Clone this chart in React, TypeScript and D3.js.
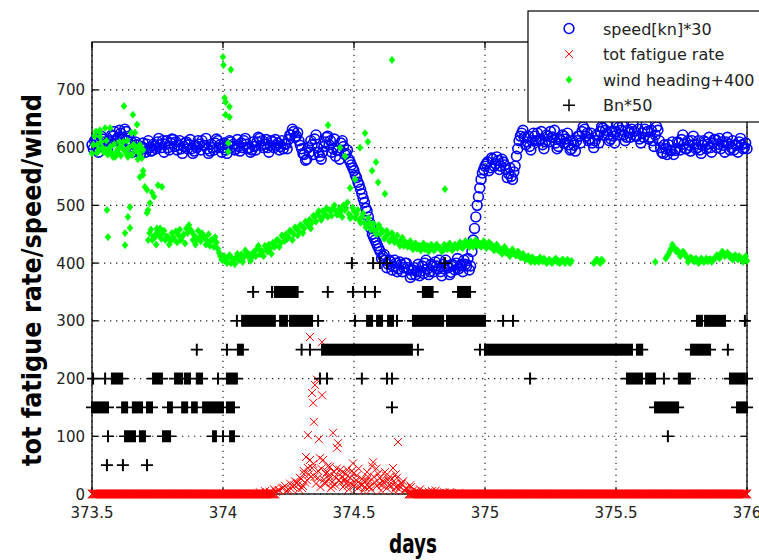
import React from "react";
import * as d3 from "d3";

// ---------- data ----------
const xTickValues = [373.5, 374, 374.5, 375, 375.5, 376];
const xTickLabels = ["373.5", "374", "374.5", "375", "375.5", "376"];
const yTickValues = [0, 100, 200, 300, 400, 500, 600, 700];
const yTickLabels = ["0", "100", "200", "300", "400", "500", "600", "700"];

// regular sampling grid (days): A samples at 373.50 + i*0.01, B samples half a step later
const gridStart = 373.5;
const gridStep = 0.01;

// speed[kn]*30, A samples 373.50 .. 376.00
const speedValues = [
  605, 612, 600, 608, 615, 605, 598, 610, 620, 612,
  618, 625, 615, 628, 620, 610, 600, 605, 595, 602,
  598, 606, 600, 595, 603, 610, 605, 612, 606, 600,
  608, 614, 610, 604, 598, 602, 610, 605, 598, 594,
  600, 606, 612, 604, 598, 594, 600, 608, 612, 605,
  600, 596, 604, 610, 606, 598, 602, 608, 612, 606,
  600, 596, 602, 610, 616, 612, 606, 600, 604, 610,
  614, 608, 602, 598, 606, 614, 622, 628, 620, 612,
  598, 588, 580, 592, 605, 615, 600, 585, 592, 610,
  620, 612, 598, 585, 596, 608, 602, 590, 580, 570,
  560, 548, 535, 520, 505, 490, 470, 450, 440, 430,
  420, 412, 405, 398, 402, 394, 400, 390, 398, 392,
  400, 388, 380, 392, 385, 378, 395, 400, 390, 385,
  395, 402, 390, 385, 398, 405, 392, 384, 396, 400,
  390, 398, 405, 395, 388, 420, 460, 500, 530, 556,
  568, 575, 565, 580, 572, 578, 568, 575, 562, 555,
  550, 558, 585, 612, 625, 618, 610, 602, 612, 620,
  625, 615, 605, 610, 620, 628, 618, 608, 602, 612,
  620, 615, 605, 598, 604, 612, 620, 628, 632, 625,
  615, 608, 612, 620, 628, 634, 630, 622, 615, 620,
  628, 635, 630, 622, 618, 626, 632, 628, 620, 615,
  625, 632, 628, 618, 612, 622, 630, 600, 590, 598,
  605, 595, 588, 598, 608, 614, 606, 598, 604, 612,
  606, 600, 596, 604, 610, 606, 600, 608, 614, 606,
  598, 604, 610, 606, 600, 596, 604, 610, 605, 600,
  598,
];
// speed[kn]*30, B samples 373.505 .. 375.995
const speedValuesB = [
  598, 615, 592, 620, 610, 600, 612, 622, 628, 615,
  630, 618, 632, 612, 606, 592, 610, 598, 590, 608,
  592, 612, 594, 606, 598, 616, 600, 592, 612, 596,
  615, 602, 596, 612, 590, 608, 598, 614, 590, 604,
  612, 596, 604, 616, 590, 606, 596, 615, 600, 592,
  608, 590, 612, 602, 596, 614, 594, 600, 616, 598,
  592, 610, 596, 618, 604, 600, 614, 592, 612, 600,
  604, 596, 612, 606, 598, 622, 632, 618, 626, 604,
  590, 578, 600, 612, 588, 622, 592, 580, 602, 618,
  605, 592, 615, 595, 580, 612, 588, 596, 575, 565,
  552, 540, 528, 512, 495, 480, 460, 445, 435, 425,
  408, 415, 392, 405, 388, 405, 385, 402, 385, 400,
  392, 375, 388, 380, 398, 386, 382, 405, 380, 398,
  385, 395, 405, 378, 390, 395, 380, 398, 388, 408,
  395, 385, 398, 408, 395, 440, 480, 515, 545, 562,
  572, 560, 582, 568, 584, 562, 580, 570, 548, 565,
  545, 568, 598, 620, 630, 605, 620, 596, 625, 612,
  612, 628, 598, 622, 610, 618, 630, 598, 615, 622,
  608, 625, 596, 612, 594, 620, 608, 636, 620, 612,
  625, 600, 622, 608, 636, 622, 640, 612, 628, 608,
  640, 622, 638, 612, 630, 618, 640, 620, 632, 608,
  618, 640, 615, 630, 602, 636, 612, 592, 605, 588,
  596, 610, 595, 610, 596, 622, 598, 612, 594, 620,
  598, 612, 590, 612, 598, 618, 592, 614, 600, 616,
  610, 592, 618, 596, 612, 605, 592, 616, 598, 608,
];

// wind heading+400, A samples (null = no sample)
const windValues: (number | null)[] = [
  590, 620, 605, 630, 600, 596, 588, 602, 584, 592,
  598, 586, 610, 590, 600, 626, 605, 596, 590, 582,
  null, null, 452, 440, 448, 455, 460, 452, 440, 445,
  438, 445, 455, 448, 440, 450, 460, 466, 455, 448,
  440, 445, 452, 445, 438, 430, 440, 445, 425, 412,
  405, 405, 410, 400, 405, 410, 405, 415, 410, 418,
  415, 410, 420, 425, 415, 420, 430, 420, 425, 435,
  430, 440, 435, 445, 450, 445, 455, 450, 460, 455,
  465, 460, 470, 475, 470, 480, 485, 480, 490, 485,
  480, 490, 495, 490, 485, 490, 500, 495, 485, 480,
  490, 485, 475, 480, 470, 465, 470, 460, 455, 460,
  450, 455, 445, 450, 440, 445, 440, 435, 440, 430,
  435, 430, 428, 432, 425, 430, 428, 424, 430, 426,
  428, 424, 430, 426, 422, 428, 425, 430, 426, 428,
  432, 428, 430, 434, 428, 432, 436, 430, 434, 432,
  430, 432, 428, 425, 428, 422, 420, 425, 418, 415,
  420, 417, 413, 418, 410, 412, 408, 405, 410, 402,
  405, 410, 403, 405, 402, 404, 402, 408, 404, 402,
  405, 403, 402, 404, null, null, null, null, null, null,
  null, null, 402, 405, 400, 404, null, null, null, null,
  null, null, null, null, null, null, null, null, null, null,
  null, null, null, null, null, 402, null, null, null, 408,
  415, 425, 428, 420, 418, 415, 418, 410, 405, 408,
  403, 405, 402, 406, 404, 403, 407, 405, 409, 412,
  415, 418, 414, 416, 412, 408, 410, 412, 405, 408,
  404,
];
// wind heading+400, B samples
const windValuesB: (number | null)[] = [
  605, 628, 596, 610, 592, 612, 596, 590, 606, 588,
  610, 600, 594, 612, 588, 604, 595, 580, 600, 560,
  null, 440, 458, 446, 432, 448, 442, 456, 446, 432,
  452, 440, 436, 458, 446, 434, 452, 458, 440, 432,
  456, 438, 446, 432, 450, 440, 428, 436, 418, 406,
  412, 400, 414, 408, 398, 416, 410, 402, 422, 412,
  404, 418, 412, 430, 422, 412, 426, 432, 416, 428,
  440, 428, 448, 438, 442, 456, 440, 462, 448, 466,
  452, 472, 466, 460, 482, 472, 490, 475, 482, 495,
  492, 482, 500, 484, 495, 480, 492, 505, 478, 496,
  478, 492, 470, 486, 462, 478, 458, 468, 450, 466,
  458, 442, 456, 438, 452, 436, 448, 430, 444, 436,
  428, 438, 424, 434, 430, 422, 434, 428, 420, 432,
  422, 432, 426, 420, 432, 424, 434, 422, 432, 426,
  436, 426, 438, 430, 438, 428, 440, 434, 428, 438,
  426, 436, 432, 422, 432, 426, 416, 428, 422, 412,
  424, 414, 420, 410, 416, 406, 412, 402, 408, 406,
  402, 406, 408, 400, 406, 400, 406, 402, 400, 406,
  400, 406, 400, null, null, null, null, null, null, null,
  null, 400, 406, 402, 406, null, null, null, null, null,
  null, null, null, null, null, null, null, null, null, null,
  null, null, null, null, null, null, null, null, null, 412,
  420, 432, 424, 422, 412, 420, 414, 402, 410, 404,
  408, 400, 408, 402, 408, 406, 402, 408, 414, 408,
  420, 412, 418, 410, 406, 414, 406, 410, 402, 412,
];

// scattered wind samples off the main band
const windExtraDays = [
  373.519, 373.531, 373.55, 373.557, 373.569, 373.588, 373.607, 373.622, 373.637, 373.645,
  373.656, 373.664, 373.672, 373.676, 373.695, 373.702, 373.71, 373.729, 373.737, 373.752,
  373.767, 373.714, 373.645, 373.637, 373.721, 373.71, 373.626, 373.561, 373.626, 373.683,
  373.55, 373.569, 373.53, 373.6, 373.653, 373.683, 373.695, 373.741, 373.748,
  374.0, 374.002, 374.03, 374.006, 374.01, 374.025, 374.01, 374.025, 374.02, 374.02,
  374.401, 374.447, 374.466, 374.485, 374.504, 374.523, 374.542, 374.553, 374.569, 374.584,
  374.592, 374.618, 374.645, 374.847,
];
const windExtraValues = [
  591, 619, 634, 492, 600, 584, 601, 672, 584, 461,
  657, 626, 640, 601, 553, 532, 527, 522, 515, 535,
  532, 492, 497, 480, 504, 487, 452, 445, 431, 549,
  596, 634, 626, 591, 587, 605, 596, 445, 460,
  757, 743, 735, 686, 679, 671, 657, 653, 608, 593,
  639, 600, 585, 530, 545, 600, 625, 610, 560, 575,
  540, 520, 752, 528,
];

// tot fatigue rate: spans where it is zero, and the non-zero samples
const fatigueZeroStart = [373.5, 374.71];
const fatigueZeroEnd = [374.2, 376.0];
const fatigueDays = [
  374.141, 374.16, 374.179, 374.195, 374.21, 374.225, 374.237, 374.248, 374.256, 374.267,
  374.275, 374.286, 374.294, 374.302, 374.309, 374.313, 374.317, 374.324, 374.324, 374.332,
  374.332, 374.336, 374.34, 374.34, 374.344, 374.347, 374.351, 374.355, 374.359, 374.363,
  374.366, 374.37, 374.378, 374.378, 374.382, 374.385, 374.393, 374.4, 374.408, 374.416,
  374.42, 374.424, 374.431, 374.435, 374.439, 374.447, 374.454, 374.462, 374.469, 374.477,
  374.485, 374.492, 374.496, 374.504, 374.511, 374.523, 374.53, 374.542, 374.553, 374.561,
  374.569, 374.573, 374.58, 374.592, 374.599, 374.607, 374.618, 374.63, 374.637, 374.649,
  374.656, 374.664, 374.668, 374.676, 374.687, 374.698, 374.714, 374.725, 374.744, 374.771,
  374.798, 374.828, 374.866,
  374.29, 374.305, 374.32, 374.35, 374.372, 374.39, 374.405, 374.412, 374.428, 374.443,
  374.458, 374.473, 374.48, 374.5, 374.515, 374.527, 374.535, 374.548, 374.557, 374.565,
  374.588, 374.603, 374.612, 374.625, 374.642, 374.652, 374.66, 374.672, 374.68, 374.692,
  374.202, 374.214, 374.23, 374.244, 374.26, 374.272, 374.282, 374.298, 374.308, 374.328,
  374.345, 374.362, 374.375, 374.388, 374.397, 374.404, 374.418, 374.426, 374.434, 374.45,
  374.457, 374.465, 374.474, 374.488, 374.498, 374.508, 374.518, 374.532, 374.545, 374.55,
  374.56, 374.576, 374.585, 374.596, 374.61, 374.622, 374.634, 374.645, 374.659, 374.683,
  374.702, 374.718, 374.735, 374.752, 374.785, 374.812, 374.845, 374.9,
];
const fatigueValues = [
  3, 5, 4, 8, 6, 10, 14, 8, 18, 12,
  22, 16, 28, 10, 35, 20, 64, 102, 45, 272,
  59, 30, 175, 45, 158, 125, 189, 18, 198, 40,
  95, 62, 263, 171, 59, 25, 35, 48, 47, 20,
  106, 38, 28, 80, 88, 42, 30, 22, 35, 15,
  28, 40, 53, 20, 32, 18, 26, 12, 30, 22,
  48, 55, 20, 35, 28, 15, 38, 24, 30, 45,
  18, 28, 90, 12, 22, 10, 15, 6, 4, 3,
  5, 2, 3,
  8, 14, 24, 30, 12, 18, 26, 10, 16, 24,
  12, 20, 8, 14, 10, 16, 6, 24, 12, 8,
  14, 6, 20, 10, 14, 6, 12, 8, 18, 6,
  4, 7, 11, 5, 9, 15, 20, 26, 40, 34,
  52, 28, 44, 20, 38, 32, 14, 30, 44, 20,
  38, 26, 42, 18, 36, 24, 44, 16, 22, 38,
  12, 30, 44, 18, 22, 32, 16, 26, 34, 18,
  8, 12, 5, 8, 4, 6, 3, 2,
];

// Bn*50: runs of constant value (start day, end day, plotted level)
const bnStart = [
  373.557, 373.618, 373.71,
  373.561, 373.626, 373.683, 373.771, 373.962, 374.0, 374.027, 375.698,
  373.5, 373.615, 373.656, 373.71, 373.79, 373.844, 373.882, 373.924, 374.015, 374.645, 375.649, 375.962,
  373.504, 373.55, 373.576, 373.733, 373.817, 373.855, 373.9, 373.981, 374.015, 374.37, 374.397, 374.53, 374.626, 374.645, 375.172, 375.542, 375.615, 375.683, 375.74, 375.935, 376.0,
  373.9, 374.015, 374.057, 374.3, 374.332, 374.378, 374.744, 374.981, 375.0, 375.58, 375.786, 375.927,
  374.053, 374.073, 374.218, 374.256, 374.363, 374.504, 374.55, 374.588, 374.63, 374.664, 374.725, 374.855, 375.069, 375.107, 375.809, 375.84, 375.992,
  374.115, 374.187, 374.198, 374.4, 374.496, 374.542, 374.58, 374.763, 374.897,
  374.492, 374.573, 374.599, 374.626, 374.847,
];
const bnEnd = [
  373.557, 373.618, 373.71,
  373.561, 373.664, 373.702, 373.798, 373.973, 374.0, 374.042, 375.698,
  373.561, 373.634, 373.691, 373.729, 373.805, 373.863, 373.9, 374.0, 374.042, 374.645, 375.737, 376.0,
  373.504, 373.55, 373.615, 373.767, 373.844, 373.874, 373.92, 373.981, 374.053, 374.37, 374.397, 374.53, 374.626, 374.645, 375.172, 375.599, 375.649, 375.683, 375.782, 375.992, 376.0,
  373.9, 374.015, 374.076, 374.3, 374.332, 374.721, 374.744, 374.981, 375.561, 375.6, 375.859, 375.927,
  374.053, 374.198, 374.244, 374.34, 374.363, 374.504, 374.569, 374.607, 374.649, 374.664, 374.84, 375.0, 375.069, 375.107, 375.828, 375.916, 375.992,
  374.115, 374.187, 374.285, 374.4, 374.496, 374.542, 374.58, 374.8, 374.943,
  374.492, 374.573, 374.599, 374.626, 374.847,
];
const bnLevel = [
  50, 50, 50,
  100, 100, 100, 100, 100, 100, 100, 100,
  150, 150, 150, 150, 150, 150, 150, 150, 150, 150, 150, 150,
  200, 200, 200, 200, 200, 200, 200, 200, 200, 200, 200, 200, 200, 200, 200, 200, 200, 200, 200, 200, 200,
  250, 250, 250, 250, 250, 250, 250, 250, 250, 250, 250, 250,
  300, 300, 300, 300, 300, 300, 300, 300, 300, 300, 300, 300, 300, 300, 300, 300, 300,
  350, 350, 350, 350, 350, 350, 350, 350, 350,
  400, 400, 400, 400, 400,
];

const legendLabels = ["speed[kn]*30", "tot fatigue rate", "wind heading+400", "Bn*50"];

// ---------- layout ----------
const W = 759;
const H = 560;
const PL = 92, PR = 747, PT = 42, PB = 494;
const BLUE = "#0000ff";
const RED = "#ff0000";
const GREEN = "#00ff00";
const TICK_FONT = "'DejaVu Sans', Verdana, sans-serif";
const LABEL_FONT = "'Liberation Sans Narrow', 'Arial Narrow', 'DejaVu Sans Condensed', sans-serif";

const xScale = d3.scaleLinear().domain([373.5, 376]).range([PL, PR]);
const yScale = d3.scaleLinear().domain([0, 783]).range([PB, PT]);

function crossD(cx: number, cy: number, s: number) {
  return `M${cx - s},${cy - s}L${cx + s},${cy + s}M${cx - s},${cy + s}L${cx + s},${cy - s}`;
}
function diamondD(cx: number, cy: number, w: number, h: number) {
  return `M${cx},${cy - h}L${cx + w},${cy}L${cx},${cy + h}L${cx - w},${cy}Z`;
}

export default function App() {
  const daysA = speedValues.map((_, i) => gridStart + i * gridStep);
  const daysB = speedValuesB.map((_, i) => gridStart + (i + 0.5) * gridStep);

  // speed circles (A and B samples interleaved in time)
  const speedPts: [number, number][] = [];
  daysA.forEach((d, i) => {
    speedPts.push([xScale(d), yScale(speedValues[i])]);
    if (i < speedValuesB.length) speedPts.push([xScale(daysB[i]), yScale(speedValuesB[i])]);
  });

  // fatigue: zero spans drawn as dense markers along the zero line
  let fatigueZeroPath = "";
  fatigueZeroStart.forEach((s, k) => {
    const e = fatigueZeroEnd[k];
    d3.range(s, e + 1e-9, 0.003).forEach((d) => {
      fatigueZeroPath += crossD(xScale(d), yScale(0), 4.3);
    });
  });
  let fatiguePath = "";
  fatigueDays.forEach((d, i) => {
    fatiguePath += crossD(xScale(d), yScale(fatigueValues[i]), 4);
  });

  // wind diamonds
  let windPath = "";
  windValues.forEach((v, i) => {
    if (v === null) return;
    windPath += diamondD(xScale(daysA[i]), yScale(v), 3, 3.6);
  });
  windValuesB.forEach((v, i) => {
    if (v === null) return;
    windPath += diamondD(xScale(daysB[i]), yScale(v), 3, 3.6);
  });
  windExtraDays.forEach((d, i) => {
    windPath += diamondD(xScale(d), yScale(windExtraValues[i]), 3, 3.6);
  });

  // Bn: blocks of dense '+' markers
  const bnRects: JSX.Element[] = [];
  let bnLines = "";
  bnStart.forEach((s, i) => {
    const x0 = xScale(s);
    const x1 = xScale(bnEnd[i]);
    const yy = yScale(bnLevel[i]);
    bnLines += `M${x0 - 6},${yy}L${x1 + 6},${yy}`;
    bnRects.push(
      <rect key={i} x={x0 - 1} y={yy - 6} width={x1 - x0 + 2} height={12} fill="#000" />
    );
  });

  const tickLen = 6;

  return (
    <svg width={W} height={H} viewBox={`0 0 ${W} ${H}`} style={{ position: "absolute", left: 0, top: 0, background: "#fff" }}>
      <rect x={0} y={0} width={W} height={H} fill="#fff" />
      {/* grid */}
      <g stroke="#222" strokeWidth={1.2} strokeDasharray="1.3,4.7">
        {xTickValues.map((t, i) => (
          <line key={"gx" + i} x1={xScale(t)} x2={xScale(t)} y1={PB} y2={PT} />
        ))}
        {yTickValues.map((t, i) => (
          <line key={"gy" + i} x1={PL} x2={PR} y1={yScale(t)} y2={yScale(t)} />
        ))}
      </g>
      {/* axes box and ticks */}
      <g stroke="#000" strokeWidth={1.3} fill="none">
        <rect x={PL} y={PT} width={PR - PL} height={PB - PT} />
        {xTickValues.map((t, i) => (
          <g key={"tx" + i}>
            <line x1={xScale(t)} x2={xScale(t)} y1={PB} y2={PB - tickLen} />
            <line x1={xScale(t)} x2={xScale(t)} y1={PT} y2={PT + tickLen} />
          </g>
        ))}
        {yTickValues.map((t, i) => (
          <g key={"ty" + i}>
            <line x1={PL} x2={PL + tickLen} y1={yScale(t)} y2={yScale(t)} />
            <line x1={PR} x2={PR - tickLen} y1={yScale(t)} y2={yScale(t)} />
          </g>
        ))}
      </g>
      {/* speed */}
      <g fill="none" stroke={BLUE} strokeWidth={1.6}>
        {speedPts.map((p, i) => (
          <circle key={i} cx={p[0]} cy={p[1]} r={4.9} />
        ))}
      </g>
      {/* fatigue */}
      <path d={fatigueZeroPath} stroke={RED} strokeWidth={1} fill="none" />
      <path d={fatiguePath} stroke={RED} strokeWidth={1} fill="none" />
      {/* wind */}
      <path d={windPath} fill={GREEN} stroke={GREEN} strokeWidth={0.6} />
      {/* Bn */}
      <g>{bnRects}</g>
      <path d={bnLines} stroke="#000" strokeWidth={1.7} fill="none" />
      {/* tick labels */}
      <g fontFamily={TICK_FONT} fontSize={15} fill="#222">
        {xTickValues.map((t, i) => (
          <text key={"lx" + i} x={xScale(t)} y={PB + 24} textAnchor="middle">
            {xTickLabels[i]}
          </text>
        ))}
        {yTickValues.map((t, i) => (
          <text key={"ly" + i} x={PL - 7} y={yScale(t) + 5.5} textAnchor="end">
            {yTickLabels[i]}
          </text>
        ))}
      </g>
      {/* axis labels */}
      <text x={413} y={553} textAnchor="middle" fontFamily={LABEL_FONT} fontWeight="bold" fontSize={26} fill="#000" textLength={48} lengthAdjust="spacingAndGlyphs">
        days
      </text>
      <text
        transform={`translate(41,${280}) rotate(-90)`}
        textAnchor="middle"
        fontFamily={LABEL_FONT}
        fontWeight="bold"
        fontSize={26}
        fill="#000"
        textLength={372}
        lengthAdjust="spacingAndGlyphs"
      >
        tot fatigue rate/speed/wind
      </text>
      {/* legend */}
      <g>
        <rect x={528} y={11} width={240} height={111} fill="#fff" stroke="#000" strokeWidth={1.2} />
        {legendLabels.map((lab, i) => {
          const cy = 28.5 + i * 25.6;
          const cx = 569;
          let marker: JSX.Element;
          if (i === 0) marker = <circle cx={cx} cy={cy} r={4.9} fill="none" stroke={BLUE} strokeWidth={1.5} />;
          else if (i === 1) marker = <path d={crossD(cx, cy, 4)} stroke={RED} strokeWidth={1} fill="none" />;
          else if (i === 2) marker = <path d={diamondD(cx, cy, 3, 3.6)} fill={GREEN} stroke={GREEN} strokeWidth={0.6} />;
          else marker = <path d={`M${cx - 6},${cy}L${cx + 6},${cy}M${cx},${cy - 6}L${cx},${cy + 6}`} stroke="#000" strokeWidth={1.5} />;
          return (
            <g key={"lg" + i}>
              {marker}
              <text x={603} y={cy + 6} fontFamily={TICK_FONT} fontSize={16} fill="#222">
                {lab}
              </text>
            </g>
          );
        })}
      </g>
    </svg>
  );
}
